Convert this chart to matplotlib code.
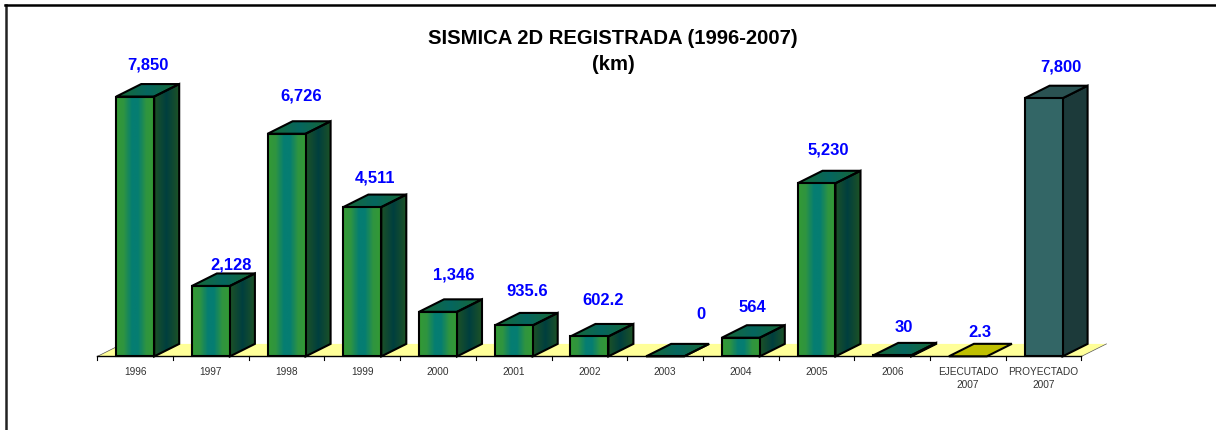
import numpy as np
import matplotlib
matplotlib.use("Agg")
import matplotlib.pyplot as plt
from matplotlib.colors import LinearSegmentedColormap
from matplotlib.lines import Line2D
from matplotlib.patches import Polygon

plt.rcParams['font.family'] = ['Liberation Sans', 'DejaVu Sans']

categories = ["1996", "1997", "1998", "1999", "2000", "2001", "2002", "2003", "2004",
              "2005", "2006", "EJECUTADO\n2007", "PROYECTADO\n2007"]
values = [7850, 2128, 6726, 4511, 1346, 935.6, 602.2, 0, 564, 5230, 30, 2.3, 7800]
value_labels = ["7,850", "2,128", "6,726", "4,511", "1,346", "935.6", "602.2", "0", "564",
                "5,230", "30", "2.3", "7,800"]

# label offsets from the bar front-top centre, in pixels
label_dx = [13, 20, 15, 13, 16, 13, 14, 36, 12, 12, 12, 12, 17]
label_dy = [33, 22, 39, 30, 38, 35, 37, 43, 31, 34, 29, 25, 32]

W, H = 1216, 431
step = 75.7
first_x = 135.2
base_y = 357.4
scale = 0.0331
depth_x = 25 / step
depth_y = 12.5 / scale
bar_w = 38 / step

face_cmap = LinearSegmentedColormap.from_list(
    "face", [(0, "#349a34"), (0.2, "#2f9440"), (0.42, "#057d72"), (0.58, "#057d72"), (0.8, "#2f9440"), (1, "#349a34")])
side_cmap = LinearSegmentedColormap.from_list("side", ["#1d5226", "#003f3f", "#1d5226"])
top_cmap = LinearSegmentedColormap.from_list("top", ["#1a6a34", "#05665f", "#1a6a34"])

fig = plt.figure(figsize=(W / 100, H / 100), dpi=100)
ax = fig.add_axes([0, 0, 1, 1])
xlim = ((0 - first_x) / step, (W - first_x) / step)
ylim = ((base_y - H) / scale, base_y / scale)


def shade(pts, cmap, z, x0, x1):
    # gradient running left to right, clipped to the polygon
    y0 = min(p[1] for p in pts)
    y1 = max(p[1] for p in pts)
    grad = np.linspace(0, 1, 64).reshape(1, -1)
    im = ax.imshow(grad, cmap=cmap, extent=(x0, x1, y0, y1), aspect="auto", zorder=z, interpolation="bilinear")
    poly = Polygon(pts, closed=True, fc="none", ec="black", lw=1.5, zorder=z + 0.1, joinstyle="miter")
    ax.add_patch(poly)
    im.set_clip_path(poly)


def flat(pts, color, z):
    ax.add_patch(Polygon(pts, closed=True, fc=color, ec="black", lw=1.5, zorder=z, joinstyle="miter"))


# floor
n = len(categories)
fl = -0.5
fr = n - 0.5
ax.add_patch(Polygon([(fl, 0), (fr, 0), (fr + depth_x, depth_y), (fl + depth_x, depth_y)],
                     closed=True, fc="#ffff99", ec="none", zorder=1))
ax.plot([fl, fl + depth_x], [0, depth_y], color="#555555", lw=0.5, zorder=1.5)
ax.plot([fr, fr + depth_x], [0, depth_y], color="#555555", lw=0.5, zorder=1.5)
ax.plot([fl, fr], [0, 0], color="black", lw=1, zorder=1.5)
for i in range(n + 1):
    ax.plot([fl + i, fl + i], [0, -4 / scale], color="black", lw=0.8, zorder=1.5)

for i, v in enumerate(values):
    l = i - bar_w / 2
    r = i + bar_w / 2
    z = 2 + i
    front = [(l, 0), (r, 0), (r, v), (l, v)]
    side = [(r, 0), (r + depth_x, depth_y), (r + depth_x, v + depth_y), (r, v)]
    top = [(l, v), (r, v), (r + depth_x, v + depth_y), (l + depth_x, v + depth_y)]
    if categories[i].startswith("PROYECTADO"):
        flat(side, "#1c3a3a", z)
        flat(top, "#2a5252", z)
        flat(front, "#336666", z + 0.2)
    elif categories[i].startswith("EJECUTADO"):
        flat(top, "#bfbf00", z)
    else:
        shade(side, side_cmap, z, r, r + depth_x)
        shade(top, top_cmap, z, l, r + depth_x)
        shade(front, face_cmap, z + 0.2, l, r)

    ax.annotate(value_labels[i], xy=(i, v), xytext=(label_dx[i] * 0.72, label_dy[i] * 0.72),
                textcoords="offset points", ha="center", va="center", color="#0000ff",
                fontsize=11.9, fontweight="bold", zorder=30)
    ax.annotate(categories[i], xy=(i, 0), xytext=(0, -6.6), textcoords="offset points",
                ha="center", va="top", color="#333333", fontsize=7.3, linespacing=1.4, zorder=30)

ax.set_xlim(xlim)
ax.set_ylim(ylim)
ax.axis("off")

fig.text(613 / W, 1 - 39 / H, "SISMICA 2D REGISTRADA (1996-2007)", ha="center", va="center",
         fontsize=14.6, fontweight="bold", color="black")
fig.text(613 / W, 1 - 65 / H, "(km)", ha="center", va="center",
         fontsize=14.6, fontweight="bold", color="black")

# outer frame, only top and left show
fig.add_artist(Line2D([6.2 / W, 6.2 / W], [0, 1 - 6 / H], color="#222222", lw=1.8, transform=fig.transFigure))
fig.add_artist(Line2D([5 / W, 1], [1 - 6.2 / H, 1 - 6.2 / H], color="black", lw=1.8, transform=fig.transFigure))

fig.savefig("out.png", dpi=100)
